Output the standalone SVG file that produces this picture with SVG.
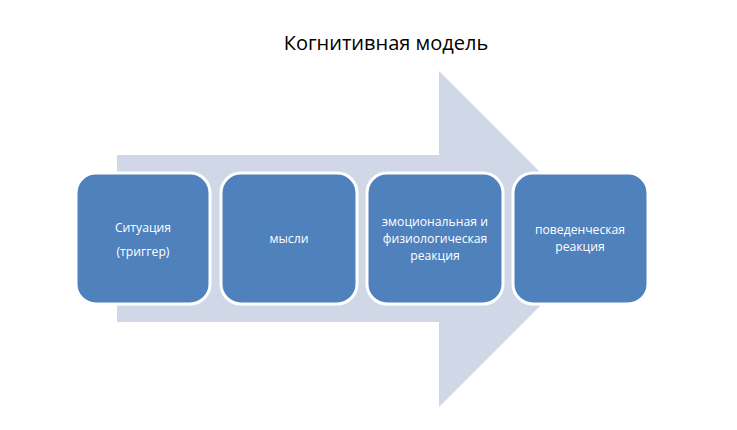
<svg xmlns="http://www.w3.org/2000/svg" width="737" height="430" viewBox="0 0 737 430">
<style>
.box{fill:#4F81BD;stroke:#FFFFFF;stroke-width:3}
.t{font-family:"Open Sans","Liberation Sans",sans-serif;font-size:12.2px;fill:#FFFFFF;text-anchor:middle}
.title{font-family:"Open Sans","Liberation Sans",sans-serif;font-size:20px;fill:#000000;text-anchor:middle}
</style>
<rect width="737" height="430" fill="#FFFFFF"/>
<text class="title" x="386" y="50">Когнитивная модель</text>
<g id="arrow">
<polygon points="117,155 439,155 439,71 607,239 439,407 439,322 117,322" fill="#D0D8E8"/>
</g>
<g id="connectors"></g>
<g id="n1">
<rect class="box" x="76" y="173" width="134" height="131" rx="20"/>
<text class="t" x="143" y="232">Ситуация</text>
<text class="t" x="143" y="256">(триггер)</text>
</g>
<g id="n2">
<rect class="box" x="221" y="173" width="136" height="131" rx="20"/>
<text class="t" x="289" y="243">мысли</text>
</g>
<g id="n3">
<rect class="box" x="367" y="173" width="136" height="131" rx="20"/>
<text class="t" x="435" y="226">эмоциональная и</text>
<text class="t" x="435" y="243">физиологическая</text>
<text class="t" x="435" y="260">реакция</text>
</g>
<g id="n4">
<rect class="box" x="513" y="173" width="135" height="131" rx="20"/>
<text class="t" x="580" y="234">поведенческая</text>
<text class="t" x="580" y="251">реакция</text>
</g>
</svg>
